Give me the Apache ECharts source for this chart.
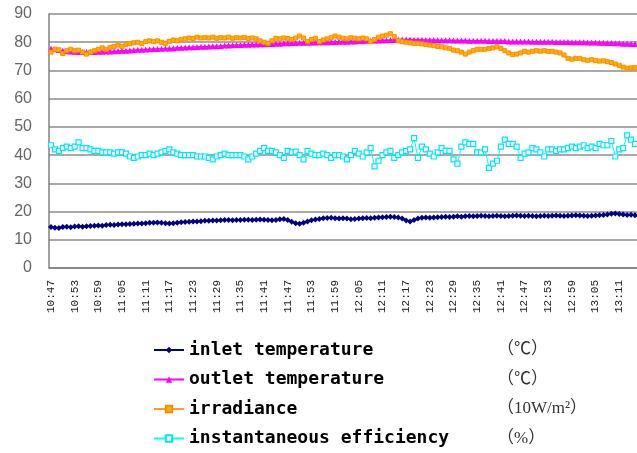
<!DOCTYPE html>
<html>
<head>
<meta charset="utf-8">
<script src="https://cdn.jsdelivr.net/npm/echarts@6/dist/echarts.min.js"></script>
<style>html,body{margin:0;padding:0;background:#fff}#c{width:637px;height:453px}</style>
</head>
<body>
<div id="c"></div>
<script>
// time categories: one per minute from 10:47
const startMinute = 10 * 60 + 47;
const pointCount = 149;
const categories = [];
for (let i = 0; i < pointCount; i++) {
  const m = startMinute + i;
  categories.push(Math.floor(m / 60) + ':' + String(m % 60).padStart(2, '0'));
}

const yTicks = [0, 10, 20, 30, 40, 50, 60, 70, 80, 90];

const seriesNames = ['inlet temperature', 'outlet temperature', 'irradiance', 'instantaneous efficiency'];
const seriesUnits = ['（℃）', '（℃）', '（10W/m²）', '（%）'];

const inlet = [
  14.5,14.3,14.2,14.5,14.6,14.4,14.7,14.8,14.6,14.8,
  14.9,15.0,15.1,15.0,15.2,15.3,15.2,15.4,15.5,15.5,
  15.6,15.7,15.8,15.8,15.9,16.0,16.0,16.1,16.0,15.9,
  15.8,15.9,16.0,16.2,16.3,16.4,16.5,16.5,16.6,16.7,
  16.7,16.8,16.8,16.9,17.0,17.0,16.9,17.0,17.0,17.1,
  17.1,17.0,17.1,17.2,17.1,17.0,16.9,17.0,17.3,17.4,
  17.0,16.4,15.9,15.7,16.0,16.5,16.9,17.2,17.4,17.6,
  17.7,17.8,17.6,17.5,17.6,17.5,17.3,17.4,17.5,17.6,
  17.7,17.6,17.8,17.9,18.0,18.1,18.2,18.1,17.9,17.5,
  16.8,16.5,17.0,17.5,17.8,17.9,17.8,17.9,18.0,18.1,
  18.2,18.1,18.2,18.3,18.2,18.3,18.4,18.3,18.4,18.5,
  18.4,18.3,18.4,18.5,18.4,18.3,18.4,18.5,18.6,18.5,
  18.4,18.5,18.4,18.3,18.4,18.5,18.4,18.5,18.6,18.5,
  18.4,18.5,18.6,18.7,18.6,18.5,18.4,18.5,18.6,18.7,
  18.8,19.0,19.2,19.3,19.1,19.0,18.8,18.9,18.7
];

const outlet = [
  77.8,77.5,77.2,77.0,76.8,76.7,76.6,76.5,76.5,76.5,
  76.5,76.5,76.6,76.6,76.7,76.7,76.8,76.9,77.0,77.0,
  77.1,77.2,77.3,77.3,77.4,77.5,77.6,77.6,77.7,77.8,
  77.8,77.9,78.0,78.0,78.1,78.2,78.2,78.3,78.4,78.4,
  78.5,78.6,78.6,78.7,78.8,78.8,78.9,79.0,79.0,79.1,
  79.1,79.2,79.2,79.3,79.3,79.4,79.4,79.5,79.5,79.6,
  79.6,79.7,79.7,79.8,79.8,79.8,79.9,79.9,80.0,80.0,
  80.0,80.1,80.1,80.2,80.2,80.2,80.3,80.3,80.4,80.4,
  80.5,80.5,80.6,80.6,80.7,80.7,80.8,80.8,80.9,81.0,
  81.0,81.0,80.9,80.9,80.9,80.8,80.8,80.8,80.7,80.7,
  80.7,80.7,80.6,80.6,80.6,80.6,80.5,80.5,80.5,80.5,
  80.5,80.4,80.4,80.4,80.4,80.4,80.3,80.3,80.3,80.3,
  80.3,80.3,80.2,80.2,80.2,80.2,80.2,80.2,80.1,80.1,
  80.1,80.1,80.0,80.0,80.0,80.0,79.9,79.9,79.9,79.8,
  79.8,79.7,79.7,79.6,79.6,79.5,79.5,79.4,79.4
];

const irradiance = [
  76.5,77.5,77.3,76.0,77.0,77.5,77.0,77.2,76.5,75.8,
  76.5,77.0,77.5,78.0,77.5,78.2,78.5,79.0,78.5,79.2,
  79.5,79.8,80.0,79.5,80.2,80.5,80.2,80.5,80.0,79.6,
  80.3,80.8,80.5,81.0,81.2,81.5,81.3,81.8,81.5,81.6,
  81.5,81.8,81.4,81.6,81.5,81.8,81.4,81.6,81.5,81.7,
  81.3,81.5,81.2,80.5,80.0,79.6,80.5,81.4,81.2,81.5,
  81.3,81.0,81.5,82.2,81.5,80.2,81.0,81.4,80.2,80.8,
  81.2,81.6,82.2,81.8,81.4,81.2,81.6,81.4,81.2,81.5,
  81.2,80.2,81.0,81.8,82.2,82.5,83.0,82.0,80.5,80.2,
  80.0,79.8,79.6,79.6,79.4,79.2,79.0,78.8,78.5,78.4,
  78.0,77.8,77.2,77.0,76.5,75.8,76.5,77.0,77.5,77.5,
  77.5,77.8,78.0,78.4,77.8,77.0,76.2,75.6,75.8,76.2,
  76.8,76.5,76.8,77.0,76.8,77.0,76.7,76.8,76.5,76.2,
  75.5,74.3,74.0,74.2,74.3,73.8,73.6,73.8,73.5,73.3,
  73.4,73.1,72.8,72.3,71.8,71.2,70.8,70.9,71.0
];

const efficiency = [
  43.5,42.0,41.5,42.5,43.0,42.5,43.0,44.5,42.5,42.5,
  42.0,41.5,41.5,41.0,41.0,41.0,40.5,41.0,41.0,40.5,
  39.5,39.0,39.5,40.0,40.0,40.5,40.0,40.5,41.0,41.5,
  42.0,41.0,40.5,40.0,40.0,40.0,40.0,39.5,39.5,39.5,
  39.0,38.5,39.5,40.0,40.5,40.0,40.0,40.0,40.0,39.5,
  38.5,39.5,40.5,41.5,42.5,41.5,41.5,41.0,40.0,39.0,
  41.5,41.0,41.2,40.0,38.5,41.5,40.5,40.0,40.0,40.5,
  40.0,39.0,40.0,40.0,39.5,38.5,40.0,41.5,40.5,39.5,
  41.0,42.5,36.0,38.0,40.0,41.0,41.5,39.0,40.0,41.0,
  41.5,42.0,46.0,39.0,43.0,42.0,40.5,39.5,41.0,42.5,
  41.5,41.5,38.5,37.0,43.0,44.5,44.0,44.0,41.0,41.0,
  42.0,35.5,37.0,38.0,43.0,45.5,44.0,44.0,43.0,39.0,
  40.5,41.0,42.5,42.0,41.0,39.5,42.0,42.0,41.5,42.0,
  42.0,42.5,43.0,42.5,43.0,43.5,42.5,43.0,42.5,44.0,
  43.5,43.5,45.0,39.5,42.0,42.5,47.0,45.5,44.0
];

const chart = echarts.init(document.getElementById('c'), null, {renderer: 'canvas'});

const unitByName = {};
seriesNames.forEach((n, i) => unitByName[n] = seriesUnits[i]);

chart.setOption({
  animation: false,
  backgroundColor: '#fff',
  grid: {left: 49, right: 0, top: 14, bottom: 185, containLabel: false},
  legend: {
    orient: 'vertical',
    left: 153,
    top: 341,
    height: 112,
    padding: 0,
    itemGap: 11.5,
    itemWidth: 30,
    itemHeight: 8,
    data: seriesNames,
    formatter: function (name) {
      return '{n|' + name + '}{u|' + unitByName[name] + '}';
    },
    textStyle: {
      rich: {
        n: {fontFamily: '"DejaVu Sans Mono", "Liberation Mono", monospace', fontWeight: 'bold', fontSize: 18, lineHeight: 18, color: '#000', width: 308},
        u: {fontFamily: '"Liberation Serif", "Noto Sans CJK SC", serif', fontSize: 17, lineHeight: 18, color: '#333'}
      }
    }
  },
  xAxis: {
    type: 'category',
    data: categories,
    boundaryGap: true,
    axisLine: {lineStyle: {color: '#808080', width: 1.5}},
    axisTick: {inside: true, length: 4, interval: 0, lineStyle: {color: '#808080'}},
    axisLabel: {
      interval: 5,
      rotate: 90,
      margin: 12,
      fontSize: 11,
      color: '#222',
      fontFamily: '"Liberation Mono", "DejaVu Sans Mono", monospace'
    },
    splitLine: {show: false}
  },
  yAxis: {
    type: 'value',
    min: yTicks[0],
    max: yTicks[yTicks.length - 1],
    interval: 10,
    axisLine: {show: true, lineStyle: {color: '#808080', width: 1.5}},
    axisTick: {show: false},
    axisLabel: {fontSize: 16, color: '#666', margin: 17, fontFamily: 'Arial, "Liberation Sans", sans-serif'},
    splitLine: {show: true, lineStyle: {color: '#8c8c8c', width: 1.5}}
  },
  series: [
    {
      name: seriesNames[0], type: 'line', data: inlet,
      showAllSymbol: true, symbol: 'diamond', symbolSize: 6,
      lineStyle: {color: '#000080', width: 1.5},
      itemStyle: {color: '#000080'}
    },
    {
      name: seriesNames[1], type: 'line', data: outlet,
      showAllSymbol: true, symbol: 'triangle', symbolSize: 6,
      lineStyle: {color: '#ff00ff', width: 1.5},
      itemStyle: {color: '#ff00ff'}
    },
    {
      name: seriesNames[2], type: 'line', data: irradiance,
      showAllSymbol: true, symbol: 'rect', symbolSize: 4,
      lineStyle: {color: '#ff9933', width: 1.5},
      itemStyle: {color: '#ffb300', borderColor: '#ff8c00', borderWidth: 1}
    },
    {
      name: seriesNames[3], type: 'line', data: efficiency,
      showAllSymbol: true, symbol: 'rect', symbolSize: 5,
      lineStyle: {color: '#00ffff', width: 1},
      itemStyle: {color: '#ffffff', borderColor: '#00e5ff', borderWidth: 1.2}
    }
  ]
});
</script>
</body>
</html>
